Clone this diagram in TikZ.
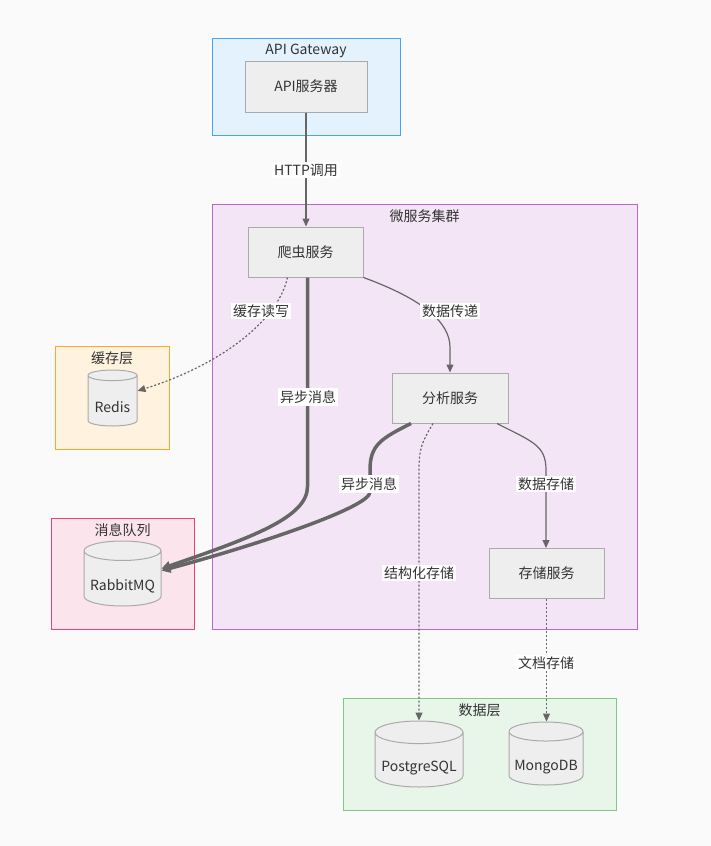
\documentclass[tikz,border=0pt]{standalone}
\usepackage{fontspec}
\setmainfont{Noto Sans CJK SC}
\usetikzlibrary{shapes.geometric,arrows.meta,positioning}
\definecolor{bgcol}{HTML}{FAFAFA}
\definecolor{nodefill}{HTML}{EEEEEE}
\definecolor{nodeline}{HTML}{AAAAAA}
\definecolor{edgecol}{HTML}{666666}
\definecolor{txtcol}{HTML}{333333}
\definecolor{gwfill}{HTML}{E3F2FD}
\definecolor{gwline}{HTML}{42A5F5}
\definecolor{msfill}{HTML}{F3E5F5}
\definecolor{msline}{HTML}{BA68C8}
\definecolor{cafill}{HTML}{FFF3E0}
\definecolor{caline}{HTML}{FFA726}
\definecolor{mqfill}{HTML}{FCE4EC}
\definecolor{mqline}{HTML}{EC407A}
\definecolor{dlfill}{HTML}{E8F5E9}
\definecolor{dlline}{HTML}{81C784}
\tikzset{
  txt/.style={text=txtcol, font=\fontsize{14}{16}\selectfont},
  cluster/.style={draw, line width=1pt, inner sep=0pt},
  ctitle/.style={txt, inner sep=0pt},
  svc/.style={txt, draw=nodeline, fill=nodefill, line width=1pt, inner sep=0pt,
    minimum width=115pt, minimum height=50pt},
  db/.style={txt, cylinder, shape border rotate=90, aspect=0.3, draw=nodeline,
    line width=1pt, cylinder uses custom fill, cylinder body fill=nodefill,
    cylinder end fill=nodefill, inner sep=0pt, anchor=shape center,
    text height=26pt, text depth=3pt},
  lbl/.style={txt, fill=white, inner sep=2pt},
  flow/.style={draw=edgecol, line width=1.2pt, -{Triangle[length=8pt,width=7pt]}},
  weak/.style={flow, dash pattern=on 2pt off 2pt},
  heavy/.style={draw=edgecol, line width=3.5pt, -{Triangle[length=9pt,width=9pt]}},
}
\begin{document}
\begin{tikzpicture}[x=1pt,y=-1pt]
  \fill[bgcol] (0,0) rectangle (711,846);
  \useasboundingbox (0,0) rectangle (711,846);
  % clusters
  \node[cluster, draw=gwline, fill=gwfill, minimum width=188pt, minimum height=97pt] (gw) at (306,86.5) {};
  \node[cluster, draw=msline, fill=msfill, minimum width=425pt, minimum height=425pt] (ms) at (424.5,416.5) {};
  \node[cluster, draw=caline, fill=cafill, minimum width=114pt, minimum height=103pt] (ca) at (112,397.5) {};
  \node[cluster, draw=mqline, fill=mqfill, minimum width=143pt, minimum height=111pt] (mqbox) at (122.5,573.5) {};
  \node[cluster, draw=dlline, fill=dlfill, minimum width=273pt, minimum height=112pt] (dl) at (479.5,754) {};
  \node[ctitle, below=6pt of gw.north] (gwtitle) {API Gateway};
  \node[ctitle, below=6pt of ms.north] (mstitle) {微服务集群};
  \node[ctitle, below=6pt of ca.north] (catitle) {缓存层};
  \node[ctitle, below=6pt of mqbox.north] (mqtitle) {消息队列};
  \node[ctitle, below=6pt of dl.north] (dltitle) {数据层};
  % services
  \node[svc, minimum width=122pt, minimum height=51pt] (api) at (306,86.5) {API服务器};
  \node[svc] (crawl) at (305.5,252) {爬虫服务};
  \node[svc, minimum width=116pt] (ana) at (450,398) {分析服务};
  \node[svc] (store) at (546.5,573) {存储服务};
  % stores
  \node[db, minimum width=49pt, minimum height=56pt] (redis) at (112.5,398) {Redis};
  \node[db, minimum width=77pt, minimum height=65pt] (mq) at (122.5,573.5) {RabbitMQ};
  \node[db, minimum width=88pt, minimum height=66pt] (pg) at (419,754) {PostgreSQL};
  \node[db, minimum width=74pt, minimum height=63pt] (mongo) at (546,753.5) {MongoDB};
  % connectors
  \draw[flow] (api.south) -- (api.south |- crawl.north);
  \draw[weak] ([xshift=-18pt]crawl.south) .. controls +(-10,45) and +(80,-25) .. ([yshift=10pt]redis.east);
  \draw[flow] (crawl.south east) .. controls +(60,22) and +(0,-25) .. ([yshift=25pt]ana.north) -- (ana.north);
  \draw[heavy, rounded corners] ([xshift=2pt]crawl.south) -- ++(0,205) .. controls +(0,35) and +(90,-31) .. ([yshift=10pt]mq.east);
  \draw[heavy] ([xshift=-39pt]ana.south) .. controls +(-30,15) and +(0,-25) .. (370,470) -- (370,492) .. controls +(0,15) and +(100,-27) .. ([yshift=8pt]mq.east);
  \draw[weak] ([xshift=-17pt]ana.south) .. controls +(-12,20) and +(0,-20) .. (419,470) -- (pg.north);
  \draw[flow] ([xshift=47pt]ana.south) .. controls +(35,18) and +(0,-25) .. (546,470) -- (546,548);
  \draw[weak] (store.south) -- (store.south |- mongo.north);
  % labels
  \node[lbl] (l1) at (306,170) {HTTP调用};
  \node[lbl] (l2) at (261,311) {缓存读写};
  \node[lbl] (l3) at (450,311) {数据传递};
  \node[lbl] (l4) at (308,397) {异步消息};
  \node[lbl] (l5) at (369,484) {异步消息};
  \node[lbl] (l6) at (419,573) {结构化存储};
  \node[lbl] (l7) at (546,484) {数据存储};
  \node[lbl] (l8) at (546,663) {文档存储};
\end{tikzpicture}
\end{document}
